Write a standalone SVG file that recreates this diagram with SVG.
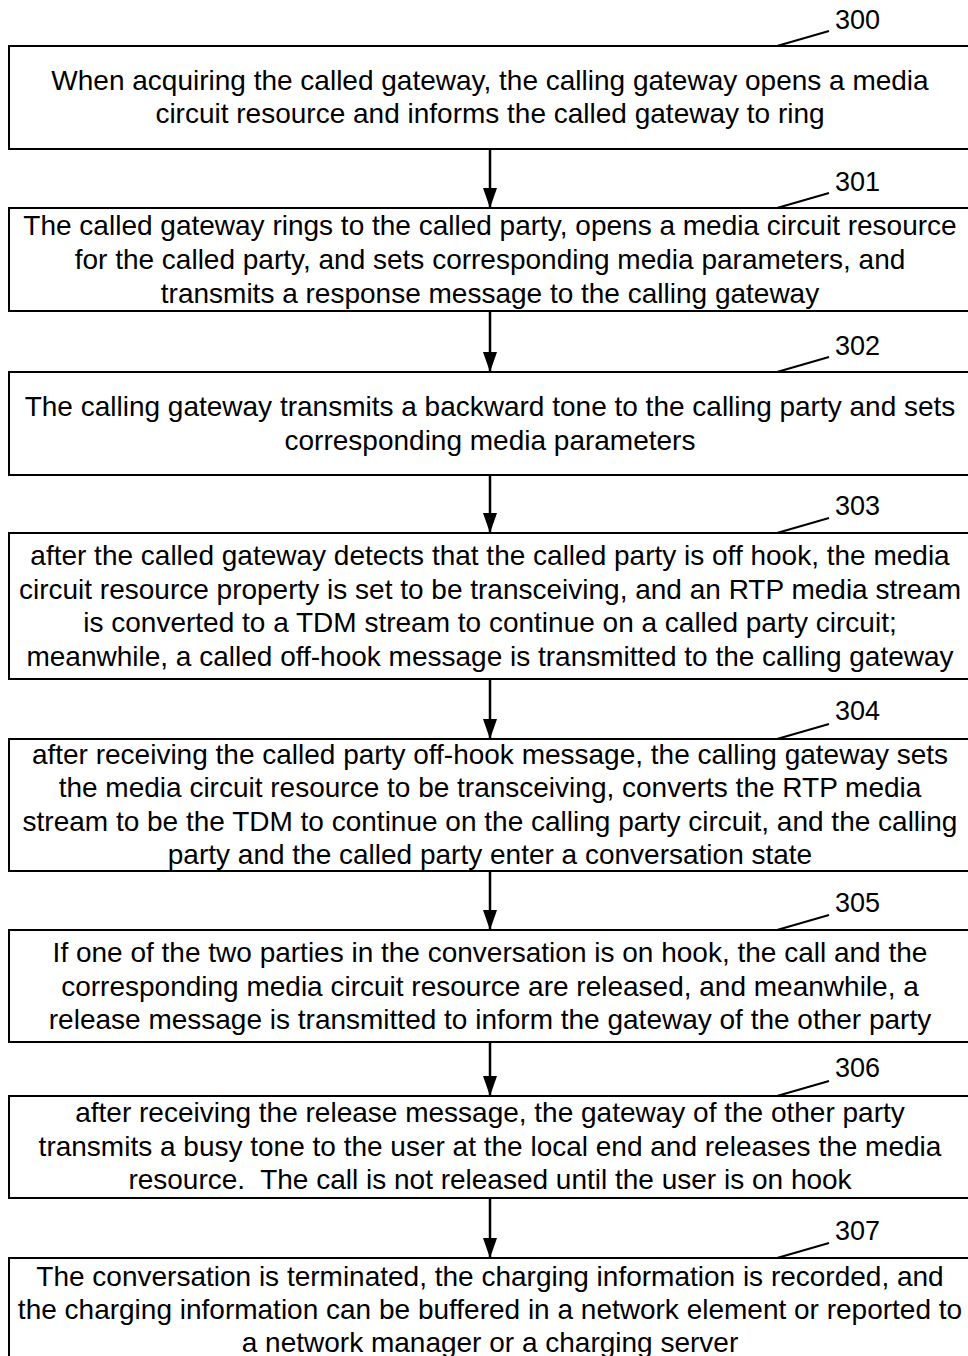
<svg xmlns="http://www.w3.org/2000/svg" width="968" height="1356" viewBox="0 0 968 1356">
<defs>
<style>
.box{fill:#fff;stroke:#000;stroke-width:2}
.t{font-family:"Liberation Sans",Arial,sans-serif;font-size:28px;fill:#000;text-anchor:middle}
.lab{font-family:"Liberation Sans",Arial,sans-serif;font-size:27px;fill:#000}
.lead{stroke:#000;stroke-width:2;fill:none}
.conn{stroke:#000;stroke-width:2.5;fill:none}
</style>
<marker id="ah" markerWidth="20" markerHeight="14" refX="20" refY="7" orient="auto" markerUnits="userSpaceOnUse" viewBox="0 0 20 14">
<path d="M0,0 L20,7 L0,14 Z" fill="#000"/>
</marker>
</defs>
<rect width="968" height="1356" fill="#fff"/>
<g id="connectors">
<line class="conn" x1="490" y1="149" x2="490" y2="208" marker-end="url(#ah)"/>
<line class="conn" x1="490" y1="311" x2="490" y2="372" marker-end="url(#ah)"/>
<line class="conn" x1="490" y1="475" x2="490" y2="533" marker-end="url(#ah)"/>
<line class="conn" x1="490" y1="679" x2="490" y2="739" marker-end="url(#ah)"/>
<line class="conn" x1="490" y1="871" x2="490" y2="930" marker-end="url(#ah)"/>
<line class="conn" x1="490" y1="1042" x2="490" y2="1096" marker-end="url(#ah)"/>
<line class="conn" x1="490" y1="1198" x2="490" y2="1258" marker-end="url(#ah)"/>
</g>
<g id="n300">
<rect class="box" x="9" y="46" width="962" height="103"/>
<text class="t" x="490" y="90">When acquiring the called gateway, the calling gateway opens a media</text>
<text class="t" x="490" y="123">circuit resource and informs the called gateway to ring</text>
<line class="lead" x1="777" y1="46" x2="829" y2="31"/>
<text class="lab" x="835" y="29">300</text>
</g>
<g id="n301">
<rect class="box" x="9" y="208" width="962" height="103"/>
<text class="t" x="490" y="235">The called gateway rings to the called party, opens a media circuit resource</text>
<text class="t" x="490" y="269">for the called party, and sets corresponding media parameters, and</text>
<text class="t" x="490" y="303">transmits a response message to the calling gateway</text>
<line class="lead" x1="777" y1="208" x2="829" y2="193"/>
<text class="lab" x="835" y="191">301</text>
</g>
<g id="n302">
<rect class="box" x="9" y="372" width="962" height="103"/>
<text class="t" x="490" y="416">The calling gateway transmits a backward tone to the calling party and sets</text>
<text class="t" x="490" y="450">corresponding media parameters</text>
<line class="lead" x1="777" y1="372" x2="829" y2="357"/>
<text class="lab" x="835" y="355">302</text>
</g>
<g id="n303">
<rect class="box" x="9" y="533" width="962" height="146"/>
<text class="t" x="490" y="565">after the called gateway detects that the called party is off hook, the media</text>
<text class="t" x="490" y="599">circuit resource property is set to be transceiving, and an RTP media stream</text>
<text class="t" x="490" y="632">is converted to a TDM stream to continue on a called party circuit;</text>
<text class="t" x="490" y="666">meanwhile, a called off-hook message is transmitted to the calling gateway</text>
<line class="lead" x1="777" y1="533" x2="829" y2="518"/>
<text class="lab" x="835" y="515">303</text>
</g>
<g id="n304">
<rect class="box" x="9" y="739" width="962" height="132"/>
<text class="t" x="490" y="764">after receiving the called party off-hook message, the calling gateway sets</text>
<text class="t" x="490" y="797">the media circuit resource to be transceiving, converts the RTP media</text>
<text class="t" x="490" y="831">stream to be the TDM to continue on the calling party circuit, and the calling</text>
<text class="t" x="490" y="864">party and the called party enter a conversation state</text>
<line class="lead" x1="777" y1="739" x2="829" y2="724"/>
<text class="lab" x="835" y="720">304</text>
</g>
<g id="n305">
<rect class="box" x="9" y="930" width="962" height="112"/>
<text class="t" x="490" y="962">If one of the two parties in the conversation is on hook, the call and the</text>
<text class="t" x="490" y="996">corresponding media circuit resource are released, and meanwhile, a</text>
<text class="t" x="490" y="1029">release message is transmitted to inform the gateway of the other party</text>
<line class="lead" x1="777" y1="930" x2="829" y2="915"/>
<text class="lab" x="835" y="912">305</text>
</g>
<g id="n306">
<rect class="box" x="9" y="1096" width="962" height="102"/>
<text class="t" x="490" y="1122">after receiving the release message, the gateway of the other party</text>
<text class="t" x="490" y="1156">transmits a busy tone to the user at the local end and releases the media</text>
<text class="t" x="490" y="1189" xml:space="preserve">resource.  The call is not released until the user is on hook</text>
<line class="lead" x1="777" y1="1096" x2="829" y2="1081"/>
<text class="lab" x="835" y="1077">306</text>
</g>
<g id="n307">
<rect class="box" x="9" y="1258" width="962" height="110"/>
<text class="t" x="490" y="1286">The conversation is terminated, the charging information is recorded, and</text>
<text class="t" x="490" y="1319">the charging information can be buffered in a network element or reported to</text>
<text class="t" x="490" y="1352">a network manager or a charging server</text>
<line class="lead" x1="777" y1="1258" x2="829" y2="1243"/>
<text class="lab" x="835" y="1240">307</text>
</g>
</svg>
